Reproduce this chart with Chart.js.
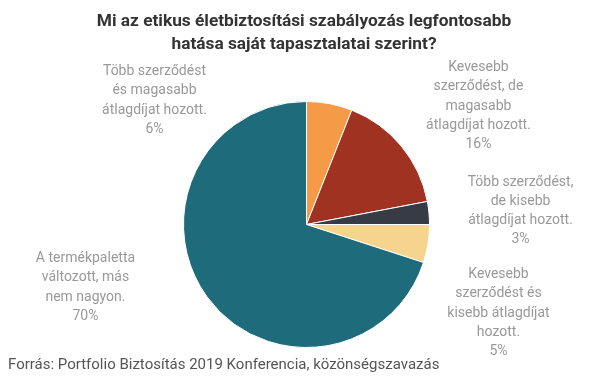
<!DOCTYPE html>
<html><head><meta charset="utf-8">
<script src="https://cdn.jsdelivr.net/npm/chart.js@4/dist/chart.umd.min.js"></script>
<style>html,body{margin:0;padding:0;background:#fff}#wrap{width:605px;height:378px;position:relative}</style>
</head><body><div id="wrap"><canvas id="c" width="605" height="378"></canvas></div>
<script>
const categories = [
  ["Több szerződést", "és magasabb", "átlagdíjat hozott."],
  ["Kevesebb", "szerződést, de", "magasabb", "átlagdíjat hozott."],
  ["Több szerződést,", "de kisebb", "átlagdíjat hozott."],
  ["Kevesebb", "szerződést és", "kisebb átlagdíjat", "hozott."],
  ["A termékpaletta", "változott, más", "nem nagyon."]
];
const values = [6, 16, 3, 5, 70];
const colors = ["#F59B47", "#A03221", "#373B45", "#F5D48D", "#1E6C7B"];
const titleLines = ["Mi az etikus életbiztosítási szabályozás legfontosabb", "hatása saját tapasztalatai szerint?"];
const footerText = "Forrás: Portfolio Biztosítás 2019 Konferencia, közönségszavazás";

// label block centre offsets, relative to pie centre in units of radius
const labelOffsets = [[-1.236, -1.008], [1.398, -0.963], [1.74, -0.11], [1.561, 0.72], [-1.797, 0.512]];

const textPlugin = {
  id: 'texts',
  afterDraw(chart) {
    const ctx = chart.ctx;
    ctx.save();
    ctx.textAlign = 'center';
    ctx.textBaseline = 'middle';
    ctx.fillStyle = '#333333';
    ctx.font = 'bold 17.3px Roboto';
    ctx.fillText(titleLines[0], 304, 22);
    ctx.fillText(titleLines[1], 304, 45);
    const meta = chart.getDatasetMeta(0);
    ctx.font = '14px Roboto';
    ctx.fillStyle = '#999999';
    const lh = 19.3;
    meta.data.forEach((arc, i) => {
      const lines = categories[i].concat([values[i] + '%']);
      const cx = arc.x + labelOffsets[i][0] * arc.outerRadius;
      const cy = arc.y + labelOffsets[i][1] * arc.outerRadius;
      const top = cy - (lines.length - 1) * lh / 2;
      lines.forEach((t, j) => ctx.fillText(t, cx, top + j * lh));
    });
    ctx.textAlign = 'left';
    ctx.fillStyle = '#555555';
    ctx.font = '15px Roboto';
    ctx.fillText(footerText, 8, 365);
    ctx.restore();
  }
};

new Chart(document.getElementById('c'), {
  type: 'pie',
  data: {
    labels: categories.map(c => c.join(' ')),
    datasets: [{ data: values, backgroundColor: colors, borderColor: '#ffffff', borderWidth: 1 }]
  },
  options: {
    responsive: false,
    animation: false,
    layout: { padding: { top: 101, bottom: 30, left: 183, right: 175 } },
    plugins: { legend: { display: false }, tooltip: { enabled: false }, title: { display: false } }
  },
  plugins: [textPlugin]
});
</script></body></html>
